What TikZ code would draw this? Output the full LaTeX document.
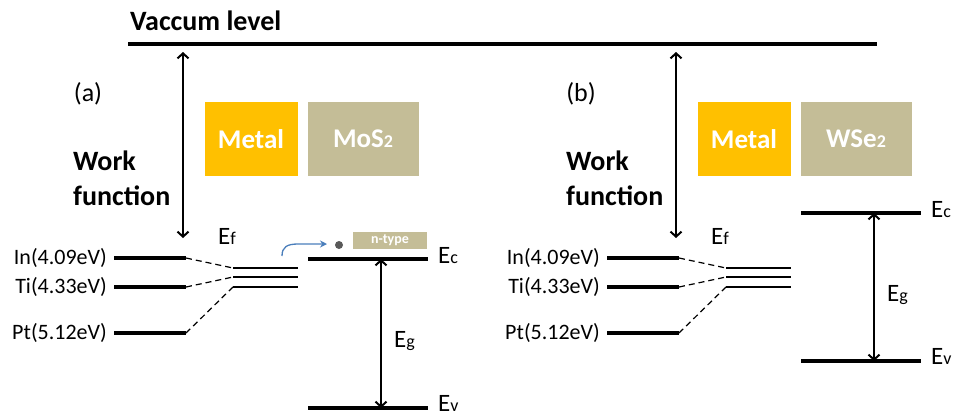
\documentclass[tikz,border=0pt]{standalone}
\usepackage{fontspec}
\setmainfont{Carlito}
\usepackage{tikz}
\usetikzlibrary{arrows.meta,positioning,calc}
\definecolor{MetalOrange}{HTML}{FFC000}
\definecolor{SemiTan}{HTML}{C4BD97}
\definecolor{HopBlue}{HTML}{4A7EBB}
\definecolor{DotGrey}{HTML}{595959}
\newcommand{\lowsub}[1]{{\fontsize{18}{20}\selectfont #1}}

\tikzset{
  lvl/.style={line width=3.2pt},
  tie/.style={dash pattern=on 6pt off 4pt, line width=1.2pt},
  gaparrow/.style={{Straight Barb[length=5pt,width=11pt]}-{Straight Barb[length=5pt,width=11pt]}, line width=2pt},
  paneltag/.style={font=\fontsize{26}{30}\selectfont},
  wflabel/.style={align=left, anchor=west, inner sep=0pt, font=\bfseries\fontsize{28}{35}\selectfont},
  boxlabel/.style={text=white, font=\bfseries\fontsize{27}{30}\selectfont, minimum height=74pt, inner sep=0pt},
  bandlabel/.style={font=\fontsize{25}{28}\selectfont, anchor=base west, inner sep=0pt},
  metallabel/.style={font=\fontsize{22}{26}\selectfont, anchor=east, inner sep=0pt}
}

\begin{document}
\begin{tikzpicture}[x=1pt,y=-1pt]
  \useasboundingbox (0,0) rectangle (955,416);
  % vacuum level
  \node[anchor=base west,inner sep=0pt,font=\bfseries\fontsize{28}{32}\selectfont] (vaclabel) at (130,30) {Vaccum level};
  \coordinate (vacL) at (128,44);
  \coordinate (vacR) at (877,44);
  \draw[lvl] (vacL) -- (vacR);

  % the two panels: metal side is the same, semiconductor bands differ
  \foreach \dx/\tg/\semi/\ec/\ev in {0/a/MoS/259/408,493/b/WSe/213/361}{
    \begin{scope}[xshift=\dx]
      \node[paneltag] (tag\tg) at (88,94) {(\tg)};
      \node[wflabel] (wf\tg) at (73,178) {Work\\function};
      \coordinate (wtop\tg) at (183,52);
      \coordinate (wbot\tg) at (183,238);
      \draw[gaparrow] (wtop\tg) -- (wbot\tg);
      \node[boxlabel,fill=MetalOrange,minimum width=93pt] (metal\tg) at (251,139) {Metal};
      \node[boxlabel,fill=SemiTan,minimum width=111pt] (semi\tg) at (363,139) {\semi\lowsub{2}};
      \node[bandlabel] (ef\tg) at (218,244) {E\lowsub{f}};
      \foreach \m/\w/\y/\yy in {In/4.09/258/268,Ti/4.33/287/277,Pt/5.12/333/287}{
        \node[metallabel] (\m\tg) at (107,\y) {\m(\w eV)};
        \coordinate (\m\tg-l) at (114,\y);
        \coordinate (\m\tg-r) at (186,\y);
        \coordinate (\m\tg-f) at (233,\yy);
        \coordinate (\m\tg-g) at (298,\yy);
        \draw[lvl] (\m\tg-l) -- (\m\tg-r);
        \draw[tie] (\m\tg-r) -- (\m\tg-f);
        \draw[lvl,line width=2.6pt] (\m\tg-f) -- (\m\tg-g);
      }
      % conduction and valence band
      \coordinate (ec\tg-l) at (308,\ec);
      \coordinate (ec\tg-r) at (428,\ec);
      \coordinate (ev\tg-l) at (308,\ev);
      \coordinate (ev\tg-r) at (428,\ev);
      \coordinate (eg\tg-t) at (381,\ec);
      \coordinate (eg\tg-b) at (381,\ev);
      \draw[lvl] (ec\tg-l) -- (ec\tg-r);
      \draw[lvl] (ev\tg-l) -- (ev\tg-r);
      \draw[gaparrow] (eg\tg-t) -- (eg\tg-b);
      \node[bandlabel] (ec\tg) at (438,\ec+4) {E\lowsub{c}};
      \node[bandlabel] (ev\tg) at (438,\ev+3) {E\lowsub{v}};
      \node[bandlabel] (eg\tg) at (394,{(\ec+\ev)/2+14}) {E\lowsub{g}};
    \end{scope}
  }

  % electron injected into MoS2
  \node[fill=SemiTan,text=white,font=\bfseries\fontsize{14}{16}\selectfont,minimum width=74pt,minimum height=17pt,inner sep=0pt] (ntype) at (390,240.5) {n-type};
  \node[circle,fill=DotGrey,minimum size=8pt,inner sep=0pt] (elec) at (339,245) {};
  \coordinate (hopstart) at (282,256);
  \coordinate (hopend) at (327,244);
  \draw[HopBlue,line width=1.3pt,-{Stealth[length=7pt,width=7pt]}] (hopstart) .. controls (282,247) and (287,244) .. (298,244) -- (hopend);
\end{tikzpicture}
\end{document}
